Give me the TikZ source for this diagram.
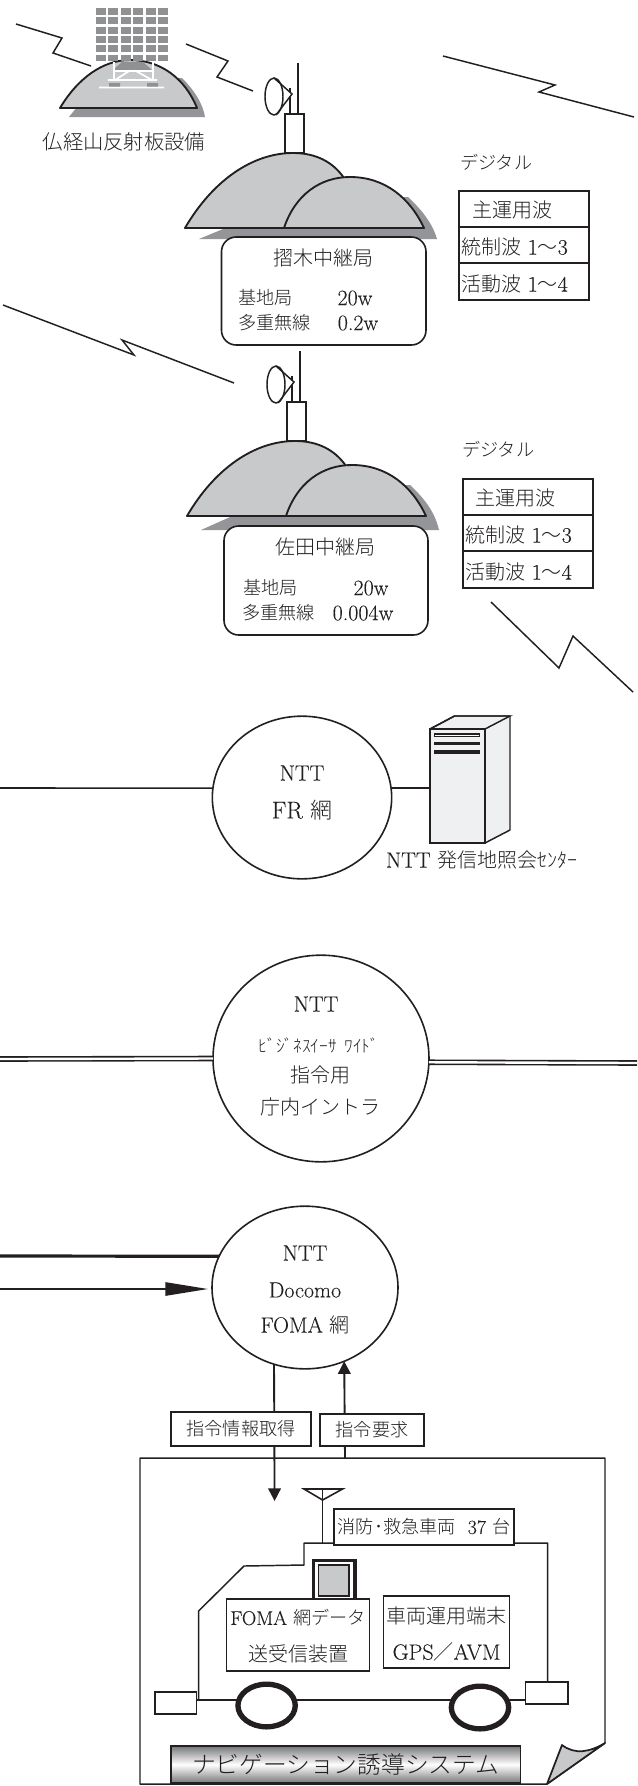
\documentclass[tikz,border=0pt]{standalone}
\usepackage{fontspec}
\usetikzlibrary{arrows.meta,shapes.geometric}
\setmainfont[Scale=1.1,FakeBold=0.12]{Latin Modern Roman}
\newfontfamily\cjk[UprightFont=* Light]{Noto Sans CJK JP}
\newcommand\J[1]{{\cjk #1}}
\definecolor{ink}{HTML}{231F20}
\definecolor{hill}{HTML}{C8C9CB}
\definecolor{shadowgray}{HTML}{939598}
\definecolor{panel}{HTML}{8F9193}
\definecolor{srv}{HTML}{EEF0F2}
\newcommand\fs[1]{\fontsize{#1}{#1}\selectfont}
\tikzset{
  lbl/.style={inner sep=0pt,outer sep=0pt,text=ink,font=\fs{15}},
  small/.style={inner sep=0pt,outer sep=0pt,text=ink,font=\fs{13.6}},
  solidbox/.style={draw=ink,line width=1.4pt,fill=white,inner sep=0pt,outer sep=0pt,text=ink,font=\fs{14.5}},
  thinbox/.style={draw=ink,line width=1.1pt,fill=white,inner sep=0pt,outer sep=0pt,text=ink,font=\fs{14.5}},
  roundbox/.style={draw=ink,line width=1.2pt,fill=white,rounded corners=11pt,inner sep=0pt,outer sep=0pt},
  cloud/.style={ellipse,draw=ink,line width=1.2pt,fill=white,inner sep=0pt,outer sep=0pt},
  bolt/.style={draw=ink,line width=1.1pt,line join=miter},
  link/.style={draw=ink,line width=1.2pt},
  hillstroke/.style={draw=ink,line width=1.4pt,fill=hill,line join=round},
  wheel/.style={ellipse,draw=ink,line width=4pt,fill=white,inner sep=0pt,outer sep=0pt},
  bigtip/.style={-{Triangle[length=32pt,width=10pt]}}
}
% #1 name, #2-#5 x1 y1 x2 y2 (px), #6 style, #7 text
\newcommand\rbox[7]{%
  \pgfmathsetmacro\bw{(#4-#2)*0.75}%
  \pgfmathsetmacro\bh{(#5-#3)*0.75}%
  \node[#6,minimum width=\bw pt,minimum height=\bh pt,shape=rectangle] (#1) at ({(#2+#4)/2},{(#3+#5)/2}) {#7};%
}
% #1 shadow bottom, #2 name of tower node
\newcommand\relay[2]{%
  \fill[shadowgray] (199,#1) -- (437,#1) .. controls (433,225) and (424,212) .. (408,197) -- (300,197) -- cycle;
  \path[hillstroke] (185,228) .. controls (213,180) and (253,153) .. (293,153) .. controls (316,153) and (333,162) .. (344,178) -- (350,228) -- cycle;
  \path[hillstroke] (284,228) .. controls (295,195) and (320,177) .. (350,177) .. controls (385,177) and (410,198) .. (424,228) -- cycle;
  \draw[ink,line width=.9pt] (298,63) -- (298,114);
  \draw[ink,line width=.9pt] (290,88) -- (290,114);
  \draw[ink,line width=1.1pt,fill=white] (274,78) -- (292,94) -- (276,115);
  \draw[ink,line width=1.1pt] (274,96.5) ellipse [x radius=9,y radius=18.5];
  \rbox{#2}{285}{114}{304}{153}{thinbox}{}
}
\begin{document}
\begin{tikzpicture}[x=.75pt,y=-.75pt]
\useasboundingbox (0,0) rectangle (637,1786);
\fill[white] (0,0) rectangle (637,1786);

% --- reflector
\fill[shadowgray] (69,117) -- (205,117) .. controls (203,105) and (196,92) .. (182,78) -- (100,78) -- cycle;
\path[hillstroke] (60,108) .. controls (78,78) and (103,60) .. (130,60) .. controls (160,60) and (185,78) .. (197,108) -- cycle;
\fill[panel] (122,62) -- (143,62) -- (152,70) -- (113,70) -- cycle;
\draw[white,line width=1.3pt] (114,62) -- (114,80) (153,62) -- (153,80) (113,71) -- (154,71)
  (115,80) -- (130,70.5) (135,70.5) -- (152,80) (108,80) -- (157,80) (99,87.5) -- (164,87.5);
\fill[panel] (109,83) rectangle (120,86.5) (147,83) rectangle (158,86.5);
\foreach \cx in {95.7,108.3,120.7,133.3,145.7,158.3}
  \foreach \cy in {8.3,17.3,26.7,35.7,45,54.5}
    \fill[panel] (\cx,\cy) rectangle ++(10,6.9);
\node[lbl,font=\fs{15.2}] (refl) at (124,142) {\J{仏経山反射板設備}};

% --- bolts
\coordinate (b1a) at (16,24); \coordinate (b1b) at (62,38); \coordinate (b1c) at (53,53); \coordinate (b1d) at (91,66);
\draw[bolt] (b1a) -- (b1b) -- (b1c) -- (b1d);
\coordinate (b2a) at (186,44); \coordinate (b2b) at (228,61); \coordinate (b2c) at (217,77); \coordinate (b2d) at (253,91);
\draw[bolt] (b2a) -- (b2b) -- (b2c) -- (b2d);
\coordinate (b3a) at (443,56); \coordinate (b3b) at (555,85); \coordinate (b3c) at (539,92); \coordinate (b3d) at (634,117);
\draw[bolt] (b3a) -- (b3b) -- (b3c) -- (b3d);
\coordinate (b4a) at (3,305); \coordinate (b4b) at (134,355); \coordinate (b4c) at (122,340); \coordinate (b4d) at (234,383);
\draw[bolt] (b4a) -- (b4b) -- (b4c) -- (b4d);
\coordinate (b5a) at (491,602); \coordinate (b5b) at (559,668); \coordinate (b5c) at (573,636); \coordinate (b5d) at (633,692);
\draw[bolt] (b5a) -- (b5b) -- (b5c) -- (b5d);

% --- relay 1
\relay{239}{towerA}
\rbox{boxA}{221.5}{237}{426}{345}{roundbox}{}
\node[lbl] (a1) at (323,258) {\J{摺木中継局}};
\node[small,anchor=west] (a2) at (238,298) {\J{基地局}};
\node[lbl] (a3) at (355,298) {20w};
\node[small,anchor=west] (a4) at (238,323) {\J{多重無線}};
\node[lbl] (a5) at (358,323) {0.2w};
\node[small,anchor=west] (a6) at (460,162) {\J{デジタル}};
\rbox{ta1}{459}{191}{589}{227}{solidbox}{}
\rbox{ta2}{459}{227}{589}{263}{solidbox}{}
\rbox{ta3}{459}{263}{589}{300}{solidbox}{}
\node[lbl] (a7) at (512,210) {\J{主運用波}};
\node[lbl,anchor=west] (a8) at (461,247) {\J{統制波} 1\J{〜}3};
\node[lbl,anchor=west] (a9) at (461,284) {\J{活動波} 1\J{〜}4};

% --- relay 2
\begin{scope}[shift={(2,288)}]
\relay{242}{towerB}
\end{scope}
\rbox{boxB}{224}{526}{428}{635}{roundbox}{}
\node[lbl] (b1) at (325,547) {\J{佐田中継局}};
\node[small,anchor=west] (b2) at (243,588) {\J{基地局}};
\node[lbl] (b3) at (371,588) {20w};
\node[small,anchor=west] (b4) at (242,613) {\J{多重無線}};
\node[lbl] (b5) at (363,613) {0.004w};
\node[small,anchor=west] (b6) at (462,449) {\J{デジタル}};
\rbox{tb1}{463}{479}{593}{515}{solidbox}{}
\rbox{tb2}{463}{515}{593}{551}{solidbox}{}
\rbox{tb3}{463}{551}{593}{588}{solidbox}{}
\node[lbl] (b7) at (515,498) {\J{主運用波}};
\node[lbl,anchor=west] (b8) at (465,535) {\J{統制波} 1\J{〜}3};
\node[lbl,anchor=west] (b9) at (465,572) {\J{活動波} 1\J{〜}4};

% --- FR network
\node[cloud,minimum width=134.5pt,minimum height=122pt] (fr) at (302,797.5) {};
\node[lbl] (fr1) at (302,773) {NTT};
\node[lbl,font=\fs{16.5}] (fr2) at (302,810) {FR \J{網}};
\draw[ink,line width=1.1pt,fill=srv,line join=round] (430,729) -- (454.5,716) -- (510,716) -- (510,830) -- (485,843) -- (430,843) -- cycle;
\rbox{srvfront}{430}{729}{485}{843}{thinbox,fill=srv}{}
\draw[ink,line width=1.1pt] (430,729) -- (454.5,716) -- (510,716) -- (485,729);
\foreach \sy in {735,743.5,752}
  \draw[ink,line width=2.6pt] (434,\sy) -- (480,\sy);
\draw[white,line width=.6pt] (435,735) -- (479,735);
\node[lbl,anchor=west] (fr3) at (386,860) {NTT \J{発信地照会ｾﾝﾀｰ}};
\coordinate (frL) at (0,788);
\draw[link] (frL) -- (fr.174);
\draw[link] (fr.6) -- (srvfront.west |- fr.6);

% --- business network
\node[cloud,minimum width=162pt,minimum height=155pt] (biz) at (321,1058.5) {};
\node[lbl] (biz1) at (316,1004) {NTT};
\node[lbl,font=\fs{13}] (biz2) at (319,1045) {\J{ﾋﾞｼﾞﾈｽｲｰｻ\ \ ﾜｲﾄﾞ}};
\node[lbl] (biz3) at (320,1075) {\J{指令用}};
\node[lbl] (biz4) at (320,1107) {\J{庁内イントラ}};
\coordinate (bizL) at (0,1059);
\coordinate (bizR) at (637,1063);
\draw[ink,line width=1.2pt,double=white,double distance=1.8pt] (bizL) -- (biz.180);
\draw[ink,line width=1.2pt,double=white,double distance=1.8pt] (biz.-2.4) -- (bizR);

% --- FOMA network
\node[cloud,minimum width=139.5pt,minimum height=122pt] (foma) at (305,1287.5) {};
\node[lbl] (foma1) at (305,1253) {NTT};
\node[lbl] (foma2) at (305,1290) {Docomo};
\node[lbl] (foma3) at (305,1325) {FOMA \J{網}};
\coordinate (fomaL1) at (0,1256);
\coordinate (fomaL2) at (0,1289);
\draw[ink,line width=2.4pt] (fomaL1) -- (foma.160.2);
\draw[link,bigtip,shorten >=3pt] (fomaL2) -- (foma.west |- fomaL2);

% --- page
\path[draw=ink,line width=1.1pt,fill=white,line join=round] (140,1458) -- (605,1458) -- (605,1743) -- (547,1784) -- (140,1784) -- cycle;
\coordinate (pageTopB) at (345,1458);
\coordinate (dnTip) at (274.6,1501);
\draw[ink,line width=1.3pt,fill=hill,line join=round] (547,1784) -- (562,1745) .. controls (575,1755) and (590,1752) .. (605,1743) -- cycle;
\draw[ink,line width=1.4pt,-{Triangle[length=9.5pt,width=9.5pt]}] (foma.248.4) -- (dnTip);
\draw[ink,line width=1.4pt,-{Triangle[length=9.5pt,width=9.5pt]}] (pageTopB) -- (foma.298.5);
\rbox{req1}{171}{1412}{311}{1446}{solidbox,font=\fs{13.6}}{\J{指令情報取得}}
\rbox{req2}{320}{1414}{424}{1446}{solidbox,font=\fs{13.6}}{\J{指令要求}}

% --- vehicle
\path[draw=ink,line width=1.1pt,line join=round] (198.6,1700) -- (198.6,1611) -- (244,1566) -- (304,1565) -- (304,1543) -- (547.6,1543) -- (547.6,1682);
\coordinate (roof) at (322.6,1543);
\coordinate (antTip) at (322.6,1500);
\draw[ink,line width=1.2pt] (roof) -- (322.6,1489);
\draw[ink,line width=1.2pt,line join=miter] (304,1489) -- (342.5,1489) -- (antTip) -- cycle;
\rbox{vehLabel}{334}{1509}{514}{1545}{solidbox,font=\fs{13.6}}{\J{消防･救急車両}\ \ 37 \J{台}}
\rbox{monOut}{313.5}{1560.5}{355}{1601}{thinbox,line width=2.4pt,fill=white}{}
\rbox{monIn}{318.5}{1565}{349}{1596}{thinbox,fill=hill}{}
\rbox{foma2box}{226.7}{1599}{369.5}{1671}{thinbox}{}
\node[lbl,font=\fs{13.6}] (fb1) at (298,1618) {FOMA \J{網データ}};
\node[lbl,font=\fs{15}] (fb2) at (298,1654) {\J{送受信装置}};
\rbox{termBox}{383.6}{1596}{509.6}{1668}{thinbox}{}
\node[lbl,font=\fs{15}] (tb1x) at (446.6,1616) {\J{車両運用端末}};
\node[lbl,font=\fs{15}] (tb2x) at (446.6,1652) {GPS\J{／}AVM};
\rbox{bumpF}{155}{1692}{196.6}{1714}{thinbox}{}
\rbox{bumpR}{525.7}{1682}{568}{1704}{thinbox}{}
\node[wheel,minimum width=43pt,minimum height=32pt] (wheelF) at (266.6,1705.5) {};
\node[wheel,minimum width=43pt,minimum height=32pt] (wheelR) at (480,1707.5) {};
\draw[ink,line width=1.1pt] (bumpF.east |- 0,1700) -- (wheelF.west |- 0,1700);
\draw[ink,line width=1.1pt] (wheelF.east |- 0,1700) -- (wheelR.west |- 0,1700);
\draw[ink,line width=1.1pt] (wheelR.east |- 0,1700) -- (bumpR.west |- 0,1700);

% --- navigation bar
\pgfmathsetmacro\navw{(520.5-171)*.75}
\pgfmathsetmacro\navh{(1783-1746)*.75}
\node[draw=ink,line width=1.4pt,top color=shadowgray!80!black,bottom color=shadowgray!80!black,middle color=white,minimum width=\navw pt,minimum height=\navh pt,inner sep=0pt,text=ink,font=\fs{17.8}] (nav) at (345.7,1764.5) {\J{ナビゲーション誘導システム}};
\end{tikzpicture}
\end{document}
